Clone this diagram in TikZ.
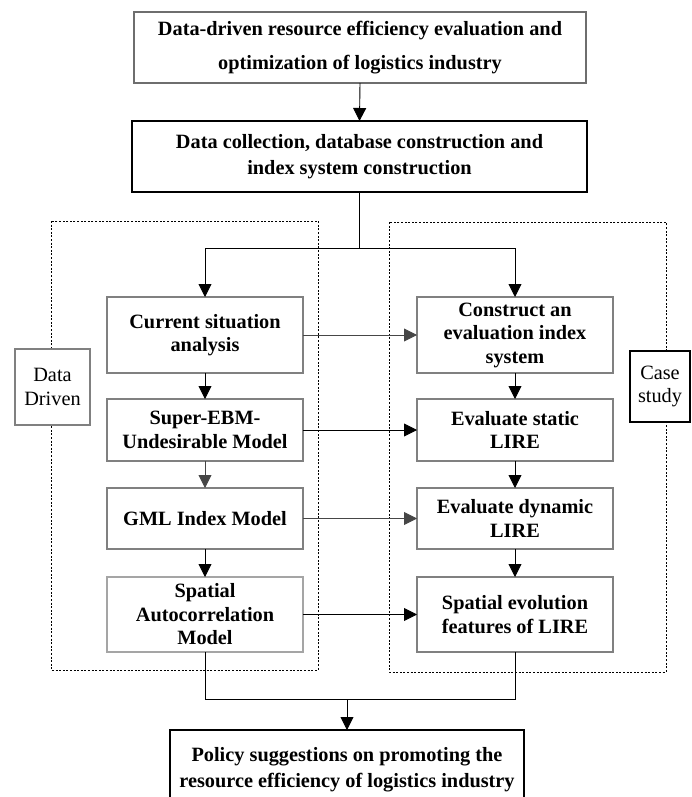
\documentclass[tikz,border=0pt]{standalone}
\usepackage{fontspec}
\setmainfont{Liberation Serif}
\usetikzlibrary{arrows.meta}
\definecolor{boxgray}{RGB}{128,128,128}
\definecolor{lightboxgray}{RGB}{165,165,165}
\definecolor{topgray}{RGB}{110,110,110}
\definecolor{arrgray}{RGB}{70,70,70}
\begin{document}
\begin{tikzpicture}[x=1pt,y=-1pt,
  every node/.style={outer sep=0pt, inner sep=2pt, align=center},
  txt/.style={font=\fontsize{20.3}{23.5}\selectfont\bfseries},
  colbox/.style={txt, draw=boxgray, line width=2.2pt, fill=white, minimum width=196pt},
  sidebox/.style={font=\fontsize{20.3}{23.5}\selectfont, fill=white},
  arr/.style={-{Triangle[length=13pt,width=13pt]}, line width=0.9pt, black},
  garr/.style={-{Triangle[length=13pt,width=13pt]}, line width=0.9pt, arrgray},
  conn/.style={line width=0.9pt, black},
  dashbox/.style={dash pattern=on 2pt off 1.6pt, line width=0.8pt}
]
\useasboundingbox (0,0) rectangle (691,797);

% dashed groups
\draw[dashbox] (51,221) rectangle (318,670);
\draw[dashbox] (389,222) rectangle (666,672);

% top boxes
\node[txt, draw=topgray, line width=1.2pt, fill=white, minimum width=452pt, minimum height=71pt,
      font=\fontsize{20.3}{34}\selectfont\bfseries] (top) at (360,47.5)
  {Data-driven resource efficiency evaluation and\\optimization of logistics industry};
\node[txt, draw=black, line width=1.8pt, fill=white, minimum width=455pt, minimum height=71pt,
      font=\fontsize{20.3}{26}\selectfont\bfseries] (second) at (359.5,156.5)
  {Data collection, database construction and\\index system construction};

% left column
\node[colbox, minimum height=76pt] (cur) at (205,335) {Current situation\\analysis};
\node[colbox, minimum height=62pt] (sebm) at (205,430) {Super-EBM-\\Undesirable Model};
\node[colbox, minimum height=61pt] (gml) at (205,518.5) {GML Index Model};
\node[colbox, draw=lightboxgray, minimum height=75pt] (sac) at (205,614.5) {Spatial\\Autocorrelation\\Model};

% right column
\node[colbox, minimum height=76pt] (cons) at (515,335) {Construct an\\evaluation index\\system};
\node[colbox, minimum height=62pt] (stat) at (515,430) {Evaluate static\\LIRE};
\node[colbox, minimum height=61pt] (dyn) at (515,518.5) {Evaluate dynamic\\LIRE};
\node[colbox, minimum height=75pt] (sevo) at (515,614.5) {Spatial evolution\\features of LIRE};

% side labels
\node[sidebox, draw=boxgray, line width=2.2pt, minimum width=75pt, minimum height=76pt] (dd) at (52.5,387) {Data\\Driven};
\node[sidebox, draw=black, line width=1.2pt, minimum width=60pt, minimum height=71pt] (cs) at (660,386.5) {Case\\study};

% bottom box
\node[txt, draw=black, line width=1.4pt, fill=white, minimum width=354pt, minimum height=80pt,
      font=\fontsize{20.3}{26}\selectfont\bfseries] (pol) at (347,770)
  {Policy suggestions on promoting the\\resource efficiency of logistics industry};

% connectors
\draw[arr] (top.south) -- (second.north);
\coordinate (split) at (359.5,248);
\draw[conn] (second.south) -- (split);
\draw[arr] (split) -| (cur.north);
\draw[arr] (split) -| (cons.north);

\draw[arr] (cur) -- (sebm);
\draw[garr] (sebm) -- (gml);
\draw[arr] (gml) -- (sac);
\draw[arr] (cons) -- (stat);
\draw[arr] (stat) -- (dyn);
\draw[arr] (dyn) -- (sevo);

\draw[garr] (cur) -- (cons);
\draw[arr] (sebm) -- (stat);
\draw[garr] (gml) -- (dyn);
\draw[arr] (sac) -- (sevo);

\coordinate (join) at (347,699);
\draw[conn] (sac.south) |- (sevo.south |- join) -- (sevo.south);
\draw[arr] (join) -- (pol.north);
\end{tikzpicture}
\end{document}
